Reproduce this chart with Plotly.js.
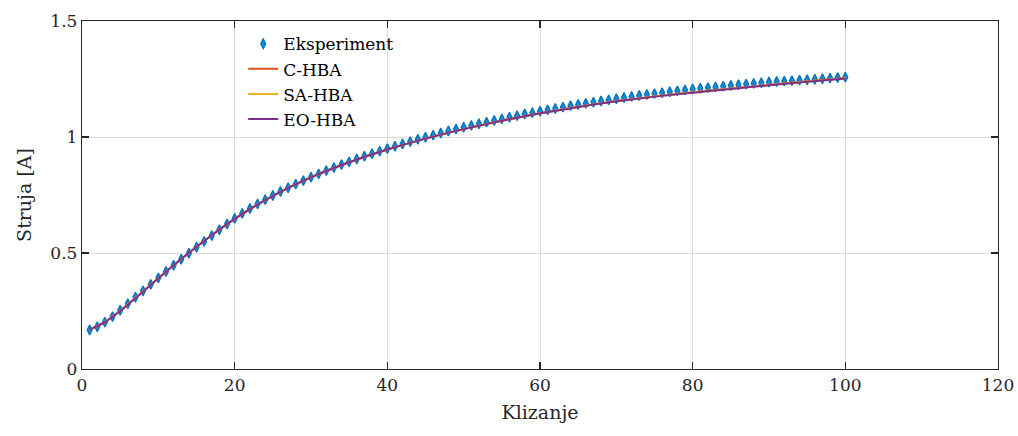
<!DOCTYPE html>
<html>
<head>
<meta charset="utf-8">
<script src="https://cdn.plot.ly/plotly-3.0.1.min.js"></script>
<style>html,body{margin:0;padding:0;background:#fff;}#chart{width:1018px;height:436px;}</style>
</head>
<body>
<div id="chart"></div>
<script>
// Experimental data (x = 1..100)
const slipExp = [];
for (let i = 1; i <= 100; i++) slipExp.push(i);
const currentExp = [
0.168,0.182,0.202,0.226,0.253,0.281,0.309,0.337,0.365,0.393,
0.420,0.447,0.473,0.499,0.525,0.550,0.575,0.600,0.625,0.649,
0.671,0.692,0.712,0.730,0.748,0.765,0.781,0.797,0.812,0.827,
0.841,0.855,0.868,0.881,0.893,0.905,0.917,0.928,0.939,0.950,
0.960,0.970,0.980,0.990,0.999,1.008,1.017,1.026,1.034,1.042,
1.050,1.057,1.064,1.071,1.078,1.085,1.092,1.099,1.105,1.111,
1.117,1.123,1.129,1.135,1.140,1.145,1.150,1.155,1.160,1.165,
1.170,1.175,1.179,1.183,1.187,1.191,1.195,1.199,1.203,1.207,
1.210,1.213,1.216,1.219,1.222,1.225,1.228,1.231,1.234,1.237,
1.239,1.241,1.243,1.245,1.247,1.249,1.251,1.254,1.256,1.258];

// Model curves
const slipModel = [1,3,5,7,10,13,16,20,25,30,35,40,45,50,55,60,65,70,75,80,85,90,95,100];
const currentCHBA  = [0.170,0.203,0.251,0.306,0.391,0.474,0.552,0.647,0.746,0.826,0.891,0.946,0.993,1.034,1.070,1.102,1.130,1.155,1.175,1.193,1.209,1.225,1.240,1.254];
const currentSAHBA = [0.170,0.203,0.251,0.306,0.391,0.474,0.552,0.647,0.746,0.826,0.891,0.946,0.993,1.034,1.070,1.102,1.130,1.155,1.175,1.192,1.208,1.224,1.239,1.253];
const currentEOHBA = [0.170,0.202,0.250,0.305,0.391,0.474,0.552,0.647,0.746,0.826,0.891,0.946,0.993,1.034,1.070,1.102,1.129,1.154,1.174,1.191,1.207,1.223,1.238,1.252];

const seriesNames = ['Eksperiment','C-HBA','SA-HBA','EO-HBA'];
const xTicks = [0,20,40,60,80,100,120];
const yTicks = [0,0.5,1,1.5];
const yTickText = ['0','0.5','1','1.5'];

const font = 'DejaVu Serif';

const traces = [
  {x: slipExp, y: currentExp, name: seriesNames[0], mode: 'markers', type: 'scatter',
   marker: {symbol: 'diamond-tall', size: 7, color: '#1a8ad4', line: {color: '#0072BD', width: 1.3}}},
  {x: slipModel, y: currentCHBA, name: seriesNames[1], mode: 'lines', type: 'scatter',
   line: {color: '#D95319', width: 2, shape: 'spline', smoothing: 0.6}},
  {x: slipModel, y: currentSAHBA, name: seriesNames[2], mode: 'lines', type: 'scatter',
   line: {color: '#EDB120', width: 2, shape: 'spline', smoothing: 0.6}},
  {x: slipModel, y: currentEOHBA, name: seriesNames[3], mode: 'lines', type: 'scatter',
   line: {color: '#7E2F8E', width: 2, shape: 'spline', smoothing: 0.6}}
];

const layout = {
  width: 1018, height: 436,
  margin: {l: 82, r: 20, t: 21, b: 67},
  paper_bgcolor: '#fff', plot_bgcolor: '#fff',
  font: {family: font, size: 17, color: '#262626'},
  showlegend: true,
  legend: {x: 0.176, y: 0.985, xanchor: 'left', yanchor: 'top', bgcolor: 'rgba(255,255,255,0)',
           borderwidth: 0, font: {family: font, size: 17, color: '#000'}, tracegroupgap: 0},
  xaxis: {range: [0,120], tickvals: xTicks, ticks: 'inside', ticklen: 7, tickwidth: 1.2, tickcolor: '#262626',
          showline: true, linecolor: '#262626', linewidth: 1.2, mirror: 'ticks',
          showgrid: true, gridcolor: '#dcdcdc', gridwidth: 1, zeroline: false,
          tickfont: {family: font, size: 17, color: '#262626'},
          title: {text: 'Klizanje', font: {family: font, size: 19, color: '#262626'}, standoff: 12}},
  yaxis: {range: [0,1.5], tickvals: yTicks, ticktext: yTickText, ticks: 'inside', ticklen: 7, tickwidth: 1.2, tickcolor: '#262626',
          showline: true, linecolor: '#262626', linewidth: 1.2, mirror: 'ticks',
          showgrid: true, gridcolor: '#dcdcdc', gridwidth: 1, zeroline: false,
          tickfont: {family: font, size: 17, color: '#262626'},
          title: {text: 'Struja [A]', font: {family: font, size: 19, color: '#262626'}, standoff: 13}}
};

Plotly.newPlot('chart', traces, layout, {staticPlot: true, displayModeBar: false});
</script>
</body>
</html>
